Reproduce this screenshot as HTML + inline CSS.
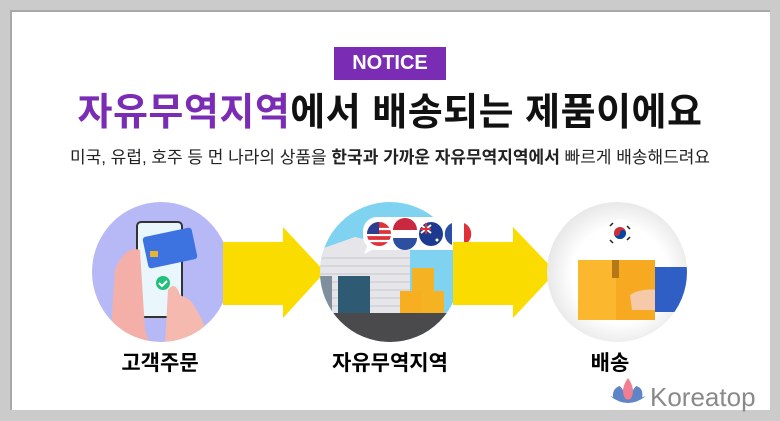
<!DOCTYPE html>
<html><head><meta charset="utf-8"><style>
body{margin:0;width:780px;height:421px;background:#cbcbcb;overflow:hidden;font-family:"Liberation Sans","Noto Sans CJK KR",sans-serif}
.panel{position:absolute;left:10px;top:10px;width:760px;height:400px;background:#fff;border-left:2px solid #a8a8a8;border-top:2px solid #a8a8a8;box-sizing:border-box}
.t{position:absolute;white-space:nowrap;text-align:center}
</style></head><body>
<div class="panel"></div>
<div class="t" style="left:334px;top:47px;width:112px;height:33px;background:#7b2cb5;color:#fff;font-weight:bold;font-size:20px;line-height:33px">NOTICE</div>
<div class="t" style="left:0;width:780px;top:90px;font-size:38px;font-weight:bold;line-height:46px;color:#111;letter-spacing:0.5px"><span style="color:#7b2cb5">자유무역지역</span>에서 배송되는 제품이에요</div>
<div class="t" style="left:0;width:780px;top:146px;font-size:17px;line-height:24px;color:#222">미국, 유럽, 호주 등 먼 나라의 상품을 <b>한국과 가까운 자유무역지역에서</b> 빠르게 배송해드려요</div>
<svg style="position:absolute;left:0;top:0" width="780" height="421">
<defs>
<clipPath id="c1"><ellipse cx="161" cy="272" rx="69" ry="70"/></clipPath>
<clipPath id="c2"><ellipse cx="390" cy="272" rx="70" ry="70"/></clipPath>
<clipPath id="c3"><ellipse cx="617" cy="272" rx="70" ry="70"/></clipPath>
<radialGradient id="g3"><stop offset="0.6" stop-color="#fff"/><stop offset="1" stop-color="#e2e2e2"/></radialGradient>
</defs>
<g clip-path="url(#c1)">
<rect x="80" y="195" width="160" height="160" fill="#b7b9f7"/>
<rect x="137" y="222" width="45" height="95" rx="4" fill="#e9f6fb" stroke="#333" stroke-width="2"/>
<rect x="145" y="232" width="50" height="32" rx="3" fill="#3d73e0" transform="rotate(-12 170 248)"/>
<rect x="150" y="251" width="8" height="6" fill="#e8b530"/>
<circle cx="163" cy="283" r="7" fill="#22c07a"/>
<path d="M159 283l3 3 5-5" stroke="#fff" stroke-width="2" fill="none"/>
<path d="M110 345 L115 270 Q125 245 140 250 L145 330 L150 345Z" fill="#f4b0a8"/>
<path d="M165 345 L168 290 Q175 280 180 295 L190 300 Q205 320 210 345Z" fill="#f6b9b0"/>
</g>
<path d="M223 242H283V227L325 272L283 318V305H223Z" fill="#fbdc00"/>
<g clip-path="url(#c2)">
<rect x="310" y="195" width="160" height="160" fill="#7fd3f0"/>
<path d="M318 250 L355 237 L410 250 V315 H318Z" fill="#e6e6ea"/>
<g stroke="#c8c8cc" stroke-width="1">
<line x1="318" y1="258" x2="410" y2="258"/><line x1="318" y1="266" x2="410" y2="266"/><line x1="318" y1="274" x2="410" y2="274"/><line x1="318" y1="282" x2="410" y2="282"/><line x1="318" y1="290" x2="410" y2="290"/><line x1="318" y1="298" x2="410" y2="298"/><line x1="318" y1="306" x2="410" y2="306"/></g>
<rect x="338" y="276" width="32" height="38" fill="#2f5a73"/>
<rect x="318" y="276" width="14" height="38" fill="#7f8f9e"/>
<rect x="412" y="268" width="22" height="23" fill="#f5b324"/>
<rect x="400" y="291" width="22" height="23" fill="#f7ae20"/>
<rect x="422" y="291" width="22" height="23" fill="#f5b324"/>
<rect x="310" y="313" width="160" height="45" fill="#4a4a4c"/>
</g>
<rect x="363" y="217" width="116" height="33" rx="14" fill="#fff"/>
<path d="M368 244 l-4 10 l12-6z" fill="#fff"/>
<circle cx="379" cy="234" r="12" fill="#e0303a"/>
<path d="M367 229h24M367 235h24M367 241h24" stroke="#fff" stroke-width="2.2"/>
<path d="M367 234 A12 12 0 0 1 379 222 V234Z" fill="#2c3e8f"/>
<circle cx="405" cy="234" r="12" fill="#fff"/>
<path d="M393 230 A12 12 0 0 1 417 230Z" fill="#c9283e"/>
<path d="M393 238 A12 12 0 0 0 417 238Z" fill="#2c4fa0"/>
<circle cx="431" cy="234" r="12" fill="#1c3a8f"/>
<path d="M421 225l10 8M431 225l-10 8" stroke="#fff" stroke-width="2"/>
<path d="M426 223v11M420 229h11" stroke="#e0303a" stroke-width="2"/>
<circle cx="437" cy="240" r="1.5" fill="#fff"/>
<circle cx="458" cy="234" r="12" fill="#fff"/>
<path d="M452 223 A12 12 0 0 0 452 245Z" fill="#2c4fa8"/>
<path d="M464 223 A12 12 0 0 1 464 245Z" fill="#e0303a"/>
<path d="M453 242H513V227L556 272L513 318V305H453Z" fill="#fbdc00"/>
<g clip-path="url(#c3)">
<rect x="540" y="195" width="160" height="160" fill="url(#g3)"/>
<rect x="578" y="260" width="77" height="60" fill="#fbb72e"/>
<rect x="616" y="260" width="39" height="60" fill="#f6a921"/>
<rect x="612" y="260" width="7" height="18" fill="#b57818"/>
<path d="M630 295 Q640 288 660 290 V310 H632Z" fill="#f6c9a8"/>
<rect x="655" y="267" width="35" height="45" fill="#2f5fc4"/>
</g>
<circle cx="620" cy="233" r="14" fill="#fff"/>
<circle cx="620" cy="233" r="6" fill="#cd2e3a"/>
<path d="M614 233 A3 3 0 0 0 620 233 A3 3 0 0 1 626 233 A6 6 0 0 1 614 233Z" fill="#0047a0"/>
<g stroke="#222" stroke-width="1.5"><path d="M610 226l3-3M627 240l3-3M610 240l3 3M627 226l3 3"/></g>
<path d="M613 398 Q612 388 620 386 Q625 392 628 400 Z" fill="#5f85c6"/>
<path d="M642 398 Q644 388 636 386 Q631 392 628 400 Z" fill="#5f85c6"/>
<path d="M628 402 Q618 392 628 378 Q638 392 628 402Z" fill="#f07f92"/>
<path d="M610 396 Q628 410 646 396 Q628 403 610 396Z" fill="#5f85c6"/>
</svg>
<div class="t" style="left:90px;width:140px;top:350px;font-size:21px;font-weight:bold;line-height:28px">고객주문</div>
<div class="t" style="left:315px;width:150px;top:350px;font-size:21px;font-weight:bold;line-height:28px">자유무역지역</div>
<div class="t" style="left:560px;width:100px;top:350px;font-size:21px;font-weight:bold;line-height:28px">배송</div>
<div class="t" style="left:650px;top:382px;font-size:26px;line-height:30px;color:#8a8a8a;text-align:left">Koreatop</div>
</body></html>
